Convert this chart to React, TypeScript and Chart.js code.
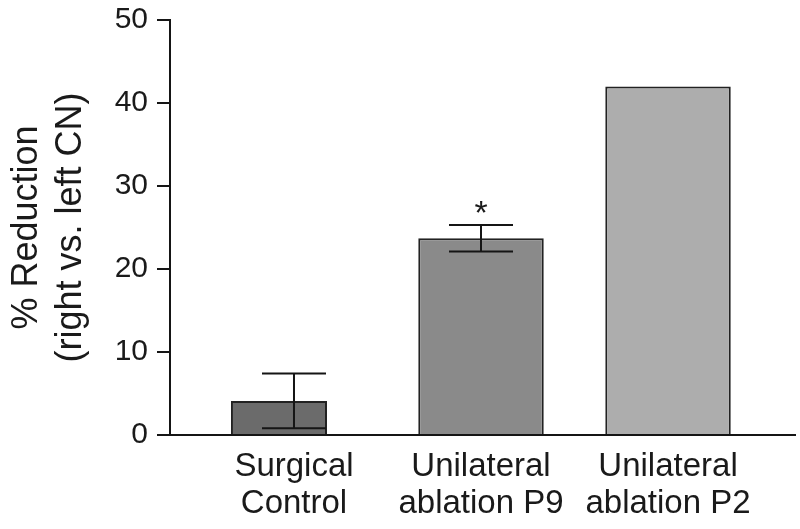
import React, { useEffect, useRef } from 'react';
import { Chart, registerables } from 'chart.js';

Chart.register(...registerables);

// ---- data ----
const categories: string[][] = [
  ['Surgical', 'Control'],
  ['Unilateral', 'ablation P9'],
  ['Unilateral', 'ablation P2'],
];
const reductionValues: number[] = [4.1, 23.7, 42.0];
const errorValues: (number | null)[] = [3.3, 1.6, null];
const significance: string[] = ['', '*', ''];
const yTickValues: number[] = [0, 10, 20, 30, 40, 50];
const yTitle: string[] = ['% Reduction', '(right vs. left CN)'];
const barColors: string[] = ['#6b6b6b', '#8a8a8a', '#adadad'];

const FONT = '"Liberation Sans", Arial, Helvetica, sans-serif';
const TEXT = '#1a1a1a';

const errorBarPlugin = {
  id: 'errorBars',
  afterDatasetsDraw(chart: any) {
    const { ctx } = chart;
    const x = chart.scales.x;
    const y = chart.scales.y;
    ctx.save();
    ctx.strokeStyle = '#151515';
    ctx.lineWidth = 2;
    reductionValues.forEach((v, i) => {
      const e = errorValues[i];
      const cx = x.getPixelForValue(i);
      if (e != null) {
        const top = y.getPixelForValue(v + e);
        const bot = y.getPixelForValue(v - e);
        ctx.beginPath();
        ctx.moveTo(cx, top);
        ctx.lineTo(cx, bot);
        ctx.moveTo(cx - 32, top);
        ctx.lineTo(cx + 32, top);
        ctx.moveTo(cx - 32, bot);
        ctx.lineTo(cx + 32, bot);
        ctx.stroke();
      }
      if (significance[i]) {
        const yTop = y.getPixelForValue(v + (e ?? 0));
        ctx.fillStyle = TEXT;
        ctx.font = `34px ${FONT}`;
        ctx.textAlign = 'center';
        ctx.textBaseline = 'middle';
        ctx.fillText(significance[i], cx, yTop - 10);
      }
    });
    ctx.restore();
  },
};

export default function App() {
  const canvasRef = useRef<HTMLCanvasElement | null>(null);

  useEffect(() => {
    if (!canvasRef.current) return;
    const idx = categories.map((_, i) => i);
    const chart = new Chart(canvasRef.current, {
      type: 'bar',
      data: {
        datasets: [
          {
            label: 'Surgical',
            data: idx.map((i) => ({ x: i, y: i === 0 ? reductionValues[i] : null })),
            backgroundColor: barColors[0],
            borderColor: '#222',
            borderWidth: 2,
            stack: 'a',
            categoryPercentage: 0.321,
            barPercentage: 3.2,
          },
          {
            label: 'spacer',
            data: idx.map((i) => ({ x: i, y: i === 0 ? 0 : null })),
            backgroundColor: 'rgba(0,0,0,0)',
            borderWidth: 0,
            stack: 'b',
            categoryPercentage: 0.321,
            barPercentage: 3.2,
          },
          {
            label: 'Ablation',
            data: idx.map((i) => ({ x: i, y: i > 0 ? reductionValues[i] : null })),
            backgroundColor: barColors,
            borderColor: '#222',
            borderWidth: 2,
            stack: 'c',
            categoryPercentage: 1,
            barPercentage: 0.671,
          },
        ] as any,
      },
      options: {
        animation: false,
        responsive: false,
        datasets: { bar: { skipNull: true } } as any,
        layout: { padding: { top: 20, right: 5, left: 0, bottom: 0 } },
        plugins: {
          legend: { display: false },
          tooltip: { enabled: false },
        },
        scales: {
          x: {
            type: 'linear',
            offset: false,
            min: -0.663,
            max: 2.679,
            grid: { display: false, offset: false },
            border: { display: true, color: '#151515', width: 2 },
            afterBuildTicks: (axis: any) => {
              axis.ticks = idx.map((i) => ({ value: i }));
            },
            afterFit: (scale: any) => {
              scale.height = 94;
              scale.paddingLeft = 0;
              scale.paddingRight = 0;
            },
            ticks: {
              autoSkip: false,
              maxRotation: 0,
              padding: 6,
              color: TEXT,
              font: { family: FONT, size: 33, lineHeight: 1.1 },
              callback: (v: any) => categories[v as number] ?? '',
            },
          },
          y: {
            type: 'linear',
            min: 0,
            max: 50,
            afterBuildTicks: (axis: any) => {
              axis.ticks = yTickValues.map((v) => ({ value: v }));
            },
            afterFit: (scale: any) => {
              scale.width = 170;
              scale.paddingTop = 0;
              scale.paddingBottom = 0;
            },
            grid: {
              display: true,
              drawOnChartArea: false,
              drawTicks: true,
              tickLength: 13,
              color: '#151515',
              lineWidth: 2,
            },
            border: { display: true, color: '#151515', width: 2 },
            ticks: {
              padding: 9,
              color: TEXT,
              font: { family: FONT, size: 30 },
            },
            title: {
              display: true,
              text: yTitle,
              color: TEXT,
              font: { family: FONT, size: 36, lineHeight: 1.22 },
              padding: { top: 5, bottom: 0 },
            },
          },
        },
      },
      plugins: [errorBarPlugin],
    } as any);
    return () => chart.destroy();
  }, []);

  return (
    <div style={{ position: 'absolute', left: 0, top: 0, width: 800, height: 529, background: '#fff' }}>
      <canvas ref={canvasRef} width={800} height={529} style={{ display: 'block' }} />
    </div>
  );
}
